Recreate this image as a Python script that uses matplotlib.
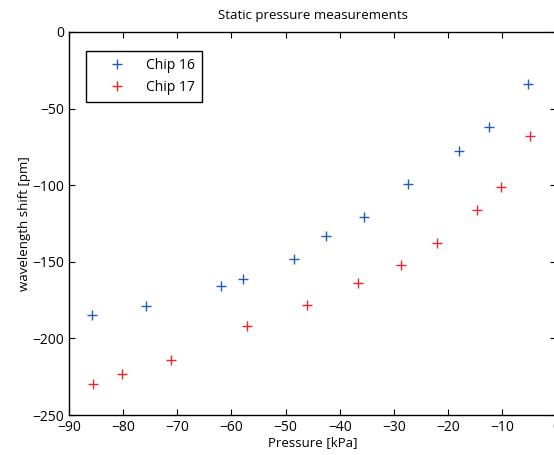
import matplotlib
matplotlib.use("Agg")
import matplotlib.pyplot as plt

plt.rcParams['font.family'] = ['Open Sans', 'DejaVu Sans']

# Chip 16
p16 = [-85.8, -75.7, -61.9, -57.8, -48.5, -42.6, -35.6, -27.5, -18.0, -12.4, -5.3]
s16 = [-185, -179, -166, -161, -148, -133, -121, -99, -78, -62, -34]
# Chip 17
p17 = [-85.5, -80.3, -71.1, -57.2, -46.1, -36.7, -28.7, -22.1, -14.7, -10.2, -4.9]
s17 = [-230, -223, -214, -192, -178, -164, -152, -138, -116, -101, -68]

fig = plt.figure(figsize=(5.54, 4.55), dpi=100)
ax = fig.add_axes([0.1245, 0.0879, 0.880, 0.8418])

ax.plot(p16, s16, '+', color='#1f5cbd', markersize=7, markeredgewidth=1.0, label='Chip 16')
ax.plot(p17, s17, '+', color='#e8262e', markersize=7, markeredgewidth=1.0, label='Chip 17')

ax.set_xlim(-90, 0)
ax.set_ylim(-250, 0)
ax.set_xticks(range(-90, 1, 10))
ax.set_yticks(range(-250, 1, 50))
ax.tick_params(direction='in', top=True, right=True, labelsize=10, length=4)
for s in ax.spines.values():
    s.set_linewidth(1.0)

ax.set_xlabel('Pressure [kPa]', fontsize=9.5, labelpad=1)
ax.set_ylabel('wavelength shift [pm]', fontsize=9.5, labelpad=1)
ax.set_title('Static pressure measurements', fontsize=9.5, pad=9)

leg = ax.legend(loc='upper left', bbox_to_anchor=(0.035, 0.95), borderaxespad=0,
                fontsize=10, fancybox=False, edgecolor='black', framealpha=1,
                handlelength=3.5, handletextpad=0.3, borderpad=0.5, labelspacing=0.5)
leg.get_frame().set_linewidth(1.0)

fig.savefig('out.png', dpi=100)
